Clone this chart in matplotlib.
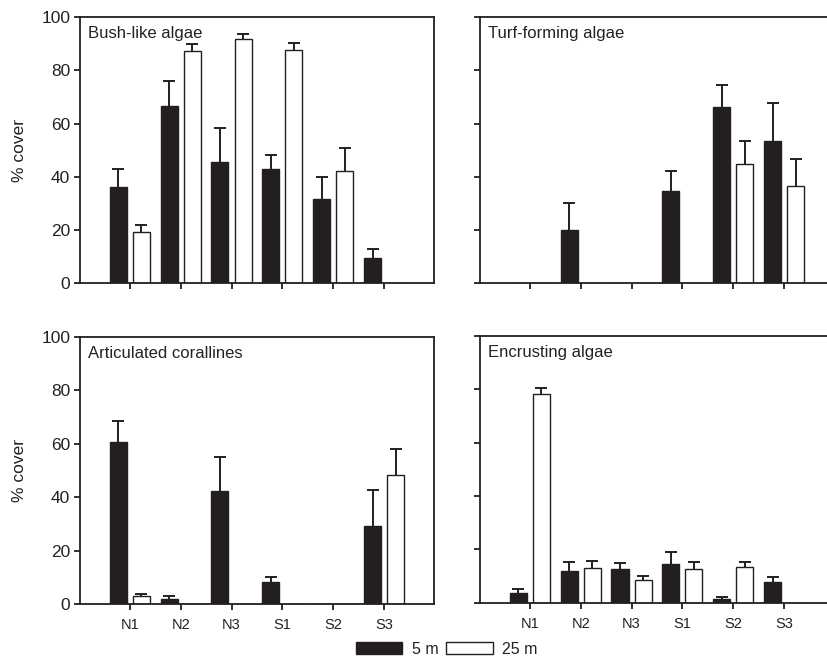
import matplotlib
matplotlib.use("Agg")
import matplotlib.pyplot as plt
import numpy as np
from matplotlib.patches import Patch

plt.rcParams['font.family'] = ['Liberation Sans', 'DejaVu Sans']

sites = ["N1", "N2", "N3", "S1", "S2", "S3"]

# % cover means and standard errors, 5 m and 25 m
bush_5 = [36.2, 66.5, 45.6, 42.9, 31.6, 9.5]
bush_5_se = [6.9, 9.5, 12.6, 5.2, 8.4, 3.5]
bush_25 = [19.4, 87.2, 91.9, 87.5, 42.2, 0]
bush_25_se = [2.4, 2.5, 1.6, 2.8, 8.6, 0]

turf_5 = [0, 20.0, 0, 34.7, 66.2, 53.6]
turf_5_se = [0, 10.0, 0, 7.4, 8.4, 14.1]
turf_25 = [0, 0, 0, 0, 44.7, 36.4]
turf_25_se = [0, 0, 0, 0, 8.9, 10.3]

artic_5 = [60.5, 1.9, 42.4, 8.1, 0, 29.3]
artic_5_se = [8.0, 1.1, 12.6, 2.2, 0, 13.2]
artic_25 = [2.9, 0, 0, 0, 0, 48.4]
artic_25_se = [1.0, 0, 0, 0, 0, 9.7]

encr_5 = [3.5, 11.9, 12.5, 14.6, 1.4, 7.9]
encr_5_se = [1.5, 3.5, 2.5, 4.5, 0.6, 1.6]
encr_25 = [78.1, 13.1, 8.5, 12.8, 13.3, 0]
encr_25_se = [2.6, 2.5, 1.5, 2.6, 2.1, 0]

panels = [
    ("Bush-like algae", bush_5, bush_5_se, bush_25, bush_25_se),
    ("Turf-forming algae", turf_5, turf_5_se, turf_25, turf_25_se),
    ("Articulated corallines", artic_5, artic_5_se, artic_25, artic_25_se),
    ("Encrusting algae", encr_5, encr_5_se, encr_25, encr_25_se),
]

dark = "#231f20"
fig = plt.figure(figsize=(8.27, 6.6), dpi=100)

# axes rectangles in figure fractions (right column runs off the page)
rects = [
    [0.0967, 0.5707, 0.428, 0.4035],
    [0.5804, 0.5707, 0.428, 0.4035],
    [0.0967, 0.0848, 0.428, 0.4050],
    [0.5804, 0.0868, 0.428, 0.4040],
]

x = np.arange(len(sites))
w = 0.335
off = 0.227

for i, (title, v5, s5, v25, s25) in enumerate(panels):
    ax = fig.add_axes(rects[i])
    v5 = np.array(v5)
    s5 = np.array(s5)
    v25 = np.array(v25)
    s25 = np.array(s25)

    ax.bar(x - off, v5, w, color=dark, edgecolor=dark, linewidth=1)
    ax.bar(x + off, v25, w, color="white", edgecolor=dark, linewidth=1)

    for xs, v, s in [(x - off, v5, s5), (x + off, v25, s25)]:
        m = s > 0
        ax.vlines(xs[m], v[m], v[m] + s[m], color=dark, linewidth=1.4)
        ax.plot(xs[m], v[m] + s[m], linestyle="none", marker="_",
                markersize=8, markeredgewidth=1.4, color=dark)

    ax.set_xlim(-0.98, 5.98)
    ax.set_ylim(0, 100)
    ax.set_yticks([0, 20, 40, 60, 80, 100])
    ax.set_xticks(x)
    for sp in ax.spines.values():
        sp.set_linewidth(1.3)
        sp.set_color(dark)
    ax.tick_params(direction="out", length=4, width=1.3, color=dark,
                   labelcolor="#222222")
    ax.tick_params(axis="y", labelsize=12.5, pad=3)
    ax.tick_params(axis="x", labelsize=10.5, pad=6)

    if i % 2 == 0:
        ax.set_ylabel("% cover", fontsize=12.5, labelpad=10, color="#222222")
    else:
        ax.set_yticklabels([])
    if i < 2:
        ax.set_xticklabels([])
    else:
        ax.set_xticklabels(sites)

    ax.text(0.024, 0.965, title, transform=ax.transAxes, ha="left", va="top",
            fontsize=12, color="#222222")

handles = [Patch(facecolor=dark, edgecolor=dark),
           Patch(facecolor="white", edgecolor=dark)]
fig.legend(handles, ["5 m", "25 m"], loc="center", bbox_to_anchor=(0.540, 0.016),
           ncol=2, frameon=False, fontsize=11.5, handlelength=2.9,
           handleheight=0.8, handletextpad=0.6, columnspacing=0.5,
           labelcolor="#222222")

fig.savefig("out.png", dpi=100)
